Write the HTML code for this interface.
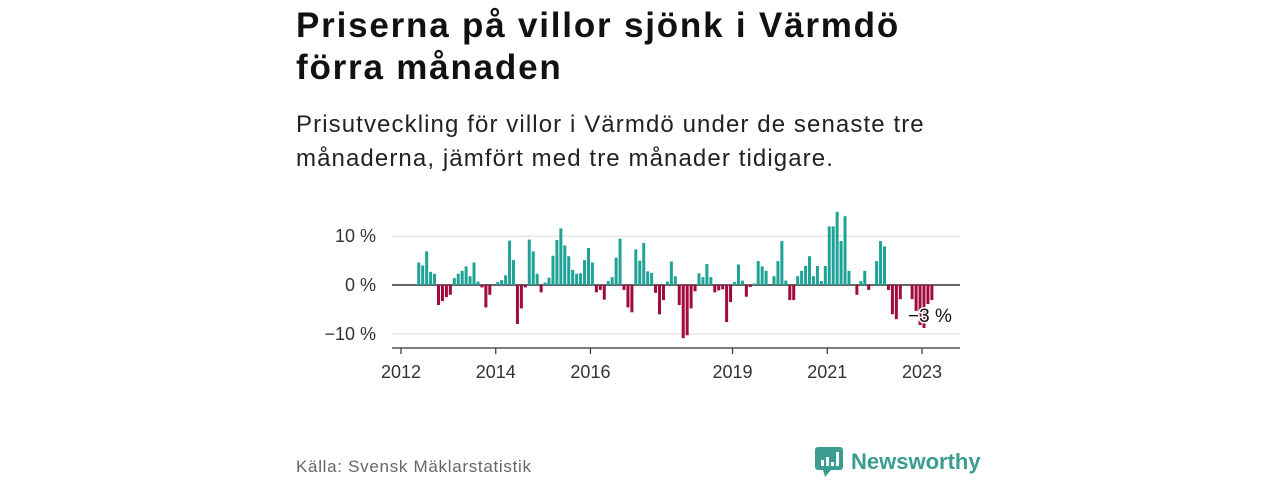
<!DOCTYPE html>
<html><head><meta charset="utf-8"><style>
body{margin:0;background:#fff;width:1280px;height:480px;overflow:hidden;font-family:"Liberation Sans",sans-serif;position:relative}
#title{position:absolute;left:296px;top:5px;font-size:35px;font-weight:bold;line-height:42px;color:#111;width:610px;letter-spacing:1.8px}
#sub{position:absolute;left:296px;top:108px;font-size:24px;line-height:34px;color:#222;width:660px;letter-spacing:1.1px}
#src{position:absolute;left:296px;top:457px;font-size:17px;color:#666;letter-spacing:0.7px}
#logo{position:absolute;left:815px;top:447px;display:flex;align-items:center}
#logo span{font-size:22px;font-weight:bold;color:#3b9c90;margin-left:8px}
svg{position:absolute;left:0;top:0}
</style></head><body>
<div id="title">Priserna på villor sjönk i Värmdö förra månaden</div>
<div id="sub">Prisutveckling för villor i Värmdö under de senaste tre månaderna, jämfört med tre månader tidigare.</div>
<div id="src">Källa: Svensk Mäklarstatistik</div>
<div id="logo">
<svg width="28" height="30" style="position:static"><rect x="0" y="0" width="28" height="23" rx="3" fill="#3b9c90"/><polygon points="8,23 16,23 10,30" fill="#3b9c90"/><rect x="6" y="13" width="3" height="6" fill="#fff"/><rect x="11" y="10" width="3" height="9" fill="#fff"/><rect x="16" y="15" width="3" height="4" fill="#fff"/><rect x="21" y="5" width="3" height="14" fill="#fff"/></svg>
<span>Newsworthy</span></div>
<svg id="chart" width="1280" height="480"></svg>
<script>
const startMonth=4; // May 2012 (months since Jan 2012)
const values=[4.6,4.0,6.9,2.7,2.3,-4.1,-3.3,-2.5,-2.0,1.4,2.3,2.9,3.8,1.8,4.6,0.7,-0.5,-4.6,-2.0,0,0.6,1.0,2.0,9.1,5.1,-8.0,-4.8,-0.5,9.3,6.9,2.3,-1.5,0.5,1.5,6.0,9.2,11.6,8.1,5.9,3.1,2.3,2.4,5.1,7.6,4.6,-1.5,-1.0,-3.0,0.8,1.6,5.6,9.5,-1.0,-4.6,-5.6,7.3,5.0,8.6,2.8,2.5,-1.6,-6.0,-3.1,0.7,4.8,1.8,-4.1,-10.9,-10.3,-4.8,-1.3,2.4,1.6,4.3,1.6,-1.5,-1.1,-0.9,-7.6,-3.5,0.6,4.2,0.9,-2.4,-0.4,0.3,4.9,3.8,2.9,0,1.8,4.9,9.0,0.9,-3.1,-3.1,1.8,2.9,3.9,5.9,1.8,3.9,0.8,3.9,12.0,12.0,15.0,9.0,14.1,2.9,0,-2.0,0.8,2.9,-1.0,0,4.9,9.0,7.9,-1.0,-6.0,-7.0,-2.9,0,0,-2.9,-5.3,-8.2,-8.8,-3.9,-3.1];
const yTicks=[10,0,-10];
const yTickLabels=["10 %","0 %","−10 %"];
const xTickYears=[2012,2014,2016,2019,2021,2023];
const lastLabel="−3 %";
const svg=document.getElementById('chart');const NS='http://www.w3.org/2000/svg';
const x=m=>401+m*3.947;const y=v=>285-v*4.88;
function mk(t,a,p){const e=document.createElementNS(NS,t);for(const k in a)e.setAttribute(k,a[k]);(p||svg).appendChild(e);return e;}
yTicks.forEach((t,i)=>{
 const g=mk('line',{x1:392,x2:960,y1:y(t),y2:y(t),stroke:t===0?'#333':'#ddd','stroke-width':t===0?1.5:1.2});
 
 
 const l=mk('text',{x:376,y:y(t)+6,'text-anchor':'end','font-size':18,fill:'#333','font-family':'Liberation Sans'});l.textContent=yTickLabels[i];
 
 
});
values.forEach((v,i)=>{
 const cx=x(startMonth+i+0.5);
 const r=mk('rect',{x:cx-1.5,width:3,y:Math.min(y(v),y(0)),height:Math.abs(y(v)-y(0)),fill:v>=0?'#1fa396':'#a10a3c'});
 
 
});
const ax=mk('line',{x1:392,x2:960,y1:348,y2:348,stroke:'#333','stroke-width':1.2});


xTickYears.forEach(yr=>{
 const px=x((yr-2012)*12);
 const t=mk('line',{x1:px,x2:px,y1:348,y2:354,stroke:'#333','stroke-width':1.2});
 
 
 const l=mk('text',{x:px,y:378,'text-anchor':'middle','font-size':18,fill:'#333','font-family':'Liberation Sans'});l.textContent=yr;
 
 
});
const ll=mk('text',{x:x(startMonth+values.length-1)+22,y:322,'text-anchor':'end','font-size':19,fill:'#111','font-family':'Liberation Sans',stroke:'#fff','stroke-width':3,'paint-order':'stroke'});ll.textContent=lastLabel;


</script>
</body></html>
